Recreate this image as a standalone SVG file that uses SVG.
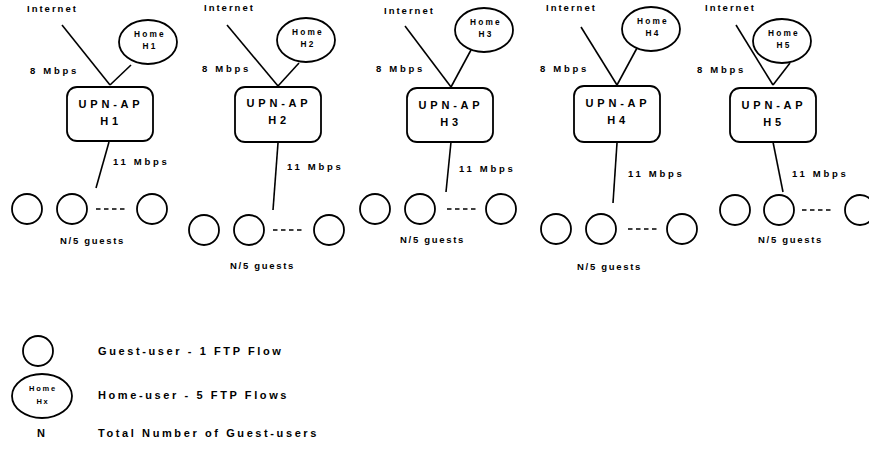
<svg xmlns="http://www.w3.org/2000/svg" width="869" height="455" viewBox="0 0 869 455">
<style>
text{font-family:"Liberation Sans",Arial,sans-serif;font-weight:bold;fill:#000}
.lbl{font-size:9.5px;letter-spacing:2px}
.mb{letter-spacing:2.7px}
.gs{letter-spacing:1.7px}
.box{font-size:11px;letter-spacing:3.8px;text-anchor:middle}
.home{font-size:8.3px;letter-spacing:2.2px;text-anchor:middle}
.homes{font-size:7.5px;letter-spacing:1.8px;text-anchor:middle}
.leg{font-size:11px;letter-spacing:2.6px}
.ln{stroke:#000;stroke-width:1.6;fill:none}
.shape{stroke:#000;stroke-width:1.8;fill:#fff}
.dash{stroke:#000;stroke-width:1.6;stroke-dasharray:4.5,3.5;fill:none}
</style>
<rect width="869" height="455" fill="#fff"/>
<g id="connectors">
<line class="ln" x1="62" y1="25" x2="110" y2="85"/>
<line class="ln" x1="131" y1="65" x2="110" y2="85"/>
<line class="ln" x1="109" y1="142" x2="96" y2="188"/>
<line class="dash" x1="96" y1="209" x2="128" y2="209"/>
<line class="ln" x1="227" y1="25" x2="278" y2="86"/>
<line class="ln" x1="299" y1="63" x2="278" y2="86"/>
<line class="ln" x1="278" y1="143" x2="273" y2="210"/>
<line class="dash" x1="273" y1="230" x2="304" y2="230"/>
<line class="ln" x1="405" y1="26" x2="451" y2="87"/>
<line class="ln" x1="471" y1="50" x2="451" y2="87"/>
<line class="ln" x1="451" y1="142" x2="446" y2="192"/>
<line class="dash" x1="447" y1="209" x2="478" y2="209"/>
<line class="ln" x1="581" y1="27" x2="617" y2="85"/>
<line class="ln" x1="637" y1="48" x2="617" y2="85"/>
<line class="ln" x1="617" y1="143" x2="613" y2="203"/>
<line class="dash" x1="628" y1="229" x2="660" y2="229"/>
<line class="ln" x1="736" y1="25" x2="773" y2="85"/>
<line class="ln" x1="790" y1="63" x2="773" y2="85"/>
<line class="ln" x1="773" y1="142" x2="783" y2="192"/>
<line class="dash" x1="802" y1="210" x2="834" y2="210"/>
</g>
<g id="group1">
<text class="lbl" x="27" y="12">Internet</text>
<text class="lbl mb" x="30" y="74">8 Mbps</text>
<text class="lbl mb" x="113" y="165">11 Mbps</text>
<text class="lbl gs" x="60" y="244">N/5 guests</text>
</g>
<g id="home1"><ellipse class="shape" cx="148" cy="42" rx="29" ry="22"/><text class="home" x="150" y="37">Home</text><text class="home" x="150" y="49">H1</text></g>
<g id="ap1"><rect class="shape" x="67" y="87" width="86" height="54" rx="10"/><text class="box" x="111" y="108">UPN-AP</text><text class="box" x="111" y="125">H1</text></g>
<g id="guests1"><circle class="shape" cx="27" cy="209" r="15"/><circle class="shape" cx="72" cy="209" r="15"/><circle class="shape" cx="152" cy="209" r="15"/></g>

<g id="group2">
<text class="lbl" x="204" y="11">Internet</text>
<text class="lbl mb" x="202" y="72">8 Mbps</text>
<text class="lbl mb" x="287" y="170">11 Mbps</text>
<text class="lbl gs" x="230" y="269">N/5 guests</text>
</g>
<g id="home2"><ellipse class="shape" cx="306" cy="40" rx="29" ry="22"/><text class="home" x="308" y="35">Home</text><text class="home" x="308" y="47">H2</text></g>
<g id="ap2"><rect class="shape" x="235" y="87" width="86" height="55" rx="10"/><text class="box" x="279" y="107">UPN-AP</text><text class="box" x="279" y="124">H2</text></g>
<g id="guests2"><circle class="shape" cx="204" cy="230" r="15"/><circle class="shape" cx="249" cy="230" r="15"/><circle class="shape" cx="329" cy="230" r="15"/></g>

<g id="group3">
<text class="lbl" x="384" y="14">Internet</text>
<text class="lbl mb" x="376" y="72">8 Mbps</text>
<text class="lbl mb" x="459" y="172">11 Mbps</text>
<text class="lbl gs" x="400" y="243">N/5 guests</text>
</g>
<g id="home3"><ellipse class="shape" cx="484" cy="30" rx="29" ry="22"/><text class="home" x="486" y="25">Home</text><text class="home" x="486" y="37">H3</text></g>
<g id="ap3"><rect class="shape" x="407" y="88" width="86" height="54" rx="10"/><text class="box" x="451" y="109">UPN-AP</text><text class="box" x="451" y="126">H3</text></g>
<g id="guests3"><circle class="shape" cx="375" cy="209" r="15"/><circle class="shape" cx="420" cy="209" r="15"/><circle class="shape" cx="501" cy="209" r="15"/></g>

<g id="group4">
<text class="lbl" x="546" y="11">Internet</text>
<text class="lbl mb" x="540" y="72">8 Mbps</text>
<text class="lbl mb" x="628" y="177">11 Mbps</text>
<text class="lbl gs" x="577" y="270">N/5 guests</text>
</g>
<g id="home4"><ellipse class="shape" cx="651" cy="29" rx="29" ry="22"/><text class="home" x="653" y="24">Home</text><text class="home" x="653" y="36">H4</text></g>
<g id="ap4"><rect class="shape" x="574" y="86" width="86" height="56" rx="10"/><text class="box" x="618" y="107">UPN-AP</text><text class="box" x="618" y="124">H4</text></g>
<g id="guests4"><circle class="shape" cx="556" cy="229" r="15"/><circle class="shape" cx="601" cy="229" r="15"/><circle class="shape" cx="682" cy="229" r="15"/></g>

<g id="group5">
<text class="lbl" x="705" y="11">Internet</text>
<text class="lbl mb" x="697" y="73">8 Mbps</text>
<text class="lbl mb" x="792" y="177">11 Mbps</text>
<text class="lbl gs" x="758" y="243">N/5 guests</text>
</g>
<g id="home5"><ellipse class="shape" cx="782" cy="41" rx="29" ry="22"/><text class="home" x="784" y="36">Home</text><text class="home" x="784" y="48">H5</text></g>
<g id="ap5"><rect class="shape" x="730" y="88" width="86" height="54" rx="10"/><text class="box" x="774" y="109">UPN-AP</text><text class="box" x="774" y="126">H5</text></g>
<g id="guests5"><circle class="shape" cx="735" cy="210" r="15"/><circle class="shape" cx="779" cy="210" r="15"/><circle class="shape" cx="860" cy="210" r="15"/></g>

<g id="legend">
<circle class="shape" cx="38" cy="351" r="15"/>
<text class="leg" x="98" y="355">Guest-user - 1 FTP Flow</text>
<ellipse class="shape" cx="42" cy="396" rx="30" ry="22"/>
<text class="homes" x="43" y="391">Home</text><text class="homes" x="43" y="404">Hx</text>
<text class="leg" x="98" y="399">Home-user - 5 FTP Flows</text>
<text class="leg" x="37" y="437">N</text>
<text class="leg" x="98" y="437">Total Number of Guest-users</text>
</g>
</svg>
